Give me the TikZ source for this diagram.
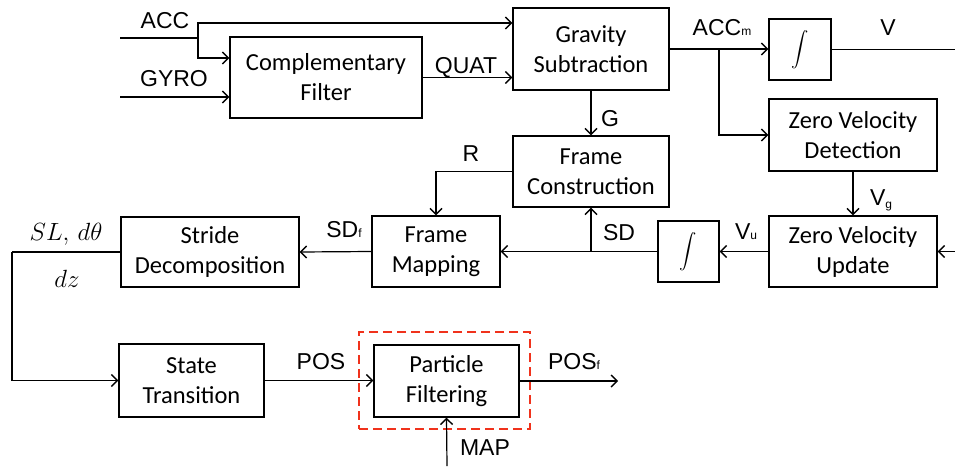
\documentclass[tikz,border=0pt]{standalone}
\usepackage{amsmath}
\usepackage{fontspec}
\setmainfont{Carlito}
\newfontfamily\arialf{Liberation Sans}
\usetikzlibrary{arrows.meta,calc}
\definecolor{dashred}{RGB}{240,50,28}
\tikzset{
 blk/.style={draw, line width=1.2pt, inner sep=0pt, align=center, font=\fontsize{24.5}{30}\selectfont},
 lbl/.style={anchor=base, inner sep=0pt, font=\arialf\fontsize{23}{23}\selectfont},
 conn/.style={line width=1.2pt},
 arr/.style={conn, -{Straight Barb[length=6pt,width=12pt,line width=1.4pt]}},
 hilite/.style={draw=dashred, line width=2.8pt, dash pattern=on 9pt off 5pt, inner sep=0pt},
}
\newcommand{\sbs}[1]{{\fontsize{12}{12}\selectfont #1}}
\newcommand{\bigint}{\fontsize{19}{19}\selectfont$\displaystyle\int$}
\begin{document}
\begin{tikzpicture}[x=1pt,y=-1pt]
\useasboundingbox (0,0) rectangle (955,466);
% blocks
\node[blk, minimum width=192pt, minimum height=81pt] (cf) at (326,77.5) {Complementary\\Filter};
\node[blk, minimum width=156pt, minimum height=82pt] (gs) at (591,49) {Gravity\\Subtraction};
\node[blk, minimum width=62pt, minimum height=61pt] (int1) at (800,49.5) {\bigint};
\node[blk, minimum width=168pt, minimum height=72pt] (zvd) at (853,135) {Zero Velocity\\Detection};
\node[blk, minimum width=156pt, minimum height=71pt] (fc) at (591,171.5) {Frame\\Construction};
\node[blk, minimum width=168pt, minimum height=71pt] (zvu) at (853,251.5) {Zero Velocity\\Update};
\node[blk, minimum width=61pt, minimum height=61pt] (int2) at (688.5,251.5) {\bigint};
\node[blk, minimum width=128pt, minimum height=71pt] (fm) at (436,251.5) {Frame\\Mapping};
\node[blk, minimum width=178pt, minimum height=70pt] (sd) at (210,252) {Stride\\Decomposition};
\node[blk, minimum width=145pt, minimum height=73pt] (st) at (191.5,380.5) {State\\Transition};
\node[blk, minimum width=145pt, minimum height=72pt] (pf) at (446.5,381) {Particle\\Filtering};
\node[hilite, minimum width=171pt, minimum height=97pt] (hl) at (444.5,380.5) {};
% free ends and junctions
\coordinate (accin) at (120,38);
\coordinate (gyroin) at (120,97);
\coordinate (j1) at (198,38);
\coordinate (j2) at (719,49);
\coordinate (vout) at (955,49);
\coordinate (zvuin) at (955,251.5);
\coordinate (c1) at (12,252);
\coordinate (posf) at (618,381);
\coordinate (mapin) at (447,466);
% connectors
\draw[conn] (accin) -- (j1);
\draw[arr] (j1) |- ([yshift=26pt]gs.west);
\draw[arr] (j1) |- ([yshift=19.5pt]cf.west);
\draw[arr] (gyroin) -- (gyroin -| cf.west);
\draw[arr] (cf.east) -- (cf.east -| gs.west);
\draw[arr] (gs.east) -- (gs.east -| int1.west);
\draw[arr] (j2) |- (zvd.west);
\draw[conn] (int1.east) -- (int1.east -| vout);
\draw[arr] (gs.south) -- (fc.north);
\draw[arr] (zvd.south) -- (zvu.north);
\draw[arr] (zvuin) -- (zvu.east);
\draw[arr] (zvu.west) -- (int2.east);
\draw[arr] (int2.west) -- (fm.east);
\draw[arr] (fc.south |- fm.east) -- (fc.south);
\draw[arr] (fc.west) -| (fm.north);
\draw[arr] (fm.west) -- (sd.east);
\draw[conn] (sd.west) -- (c1);
\draw[arr] (c1) |- (st.west);
\draw[arr] (st.east) -- (st.east -| pf.west);
\draw[arr] (pf.east) -- (posf);
\draw[arr] (mapin) -- (pf.south);
% labels
\node[lbl] (lacc) at (165,28) {ACC};
\node[lbl] (lgyro) at (174,86) {GYRO};
\node[lbl] (lquat) at (466,73) {QUAT};
\node[lbl] (laccm) at (722,35) {ACC\sbs{m}};
\node[lbl] (lv) at (888,35) {V};
\node[lbl] (lg) at (610,126) {G};
\node[lbl] (lr) at (471,161) {R};
\node[lbl] (lsdf) at (344,237) {SD\sbs{f}};
\node[lbl] (lsd) at (619,240) {SD};
\node[lbl] (lvu) at (746,239) {V\sbs{u}};
\node[lbl] (lvg) at (881,205) {V\raisebox{-3pt}{\sbs{g}}};
\node[anchor=base, inner sep=0pt, font=\fontsize{27}{27}\selectfont] (lsl) at (66,240) {$SL,\,d\theta$};
\node[anchor=base, inner sep=0pt, font=\fontsize{27}{27}\selectfont] (ldz) at (67,287) {$dz$};
\node[lbl] (lpos) at (321,369) {POS};
\node[lbl] (lposf) at (574,369) {POS\sbs{f}};
\node[lbl] (lmap) at (485,455) {MAP};
\end{tikzpicture}
\end{document}
